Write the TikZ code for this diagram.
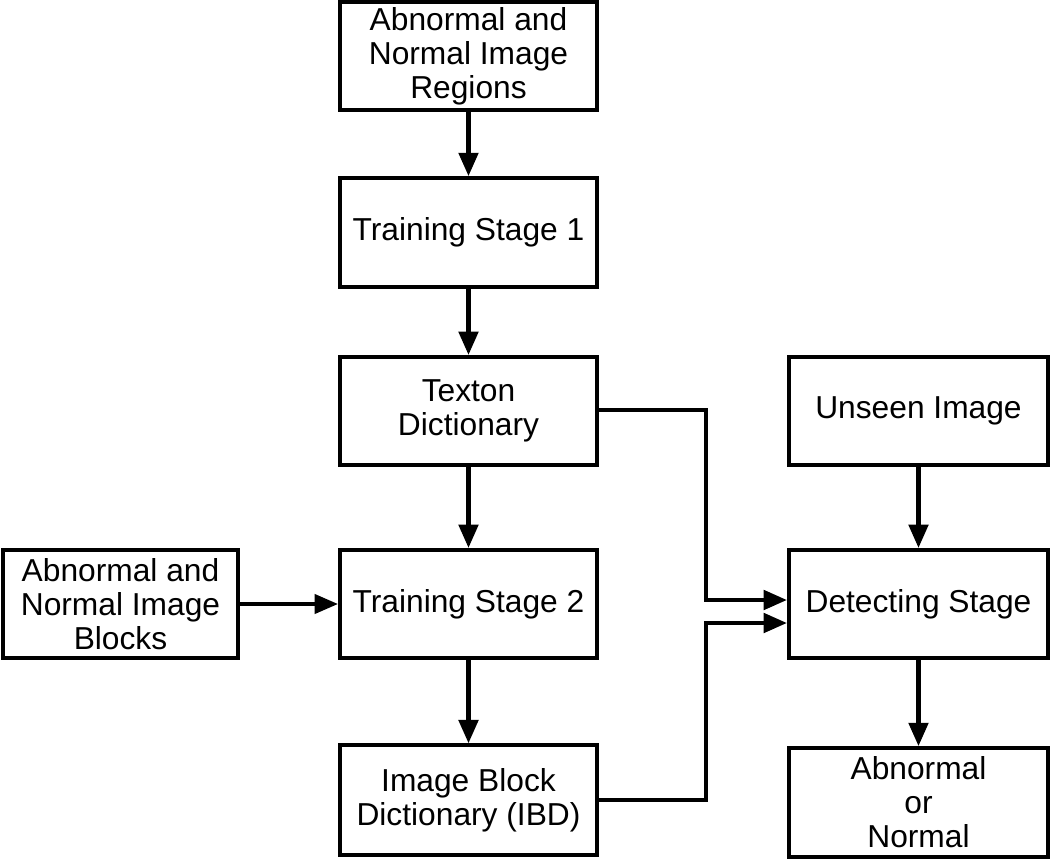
\documentclass[tikz,border=0pt]{standalone}
\usepackage{fontspec}
\setmainfont{Liberation Sans}
\usetikzlibrary{arrows.meta}
\begin{document}
\begin{tikzpicture}[x=0.75pt,y=-0.75pt,
  box/.style={draw, line width=3.1pt, minimum width=#1*0.75pt, inner sep=0pt, align=center,
    font=\fontsize{23.8}{25.5}\selectfont},
  box/.default=257,
  conn/.style={line width=3.1pt, -{Triangle[length=17.5pt,width=14.5pt]}}]
\useasboundingbox (0,0) rectangle (1050,860);
\node[box, minimum height=81pt] (reg) at (468.5,56) {Abnormal and\\Normal Image\\Regions};
\node[box, minimum height=81.5pt] (ts1) at (468.5,232.5) {Training Stage 1};
\node[box, minimum height=81pt] (tex) at (468.5,411) {Texton\\Dictionary};
\node[box, minimum height=81pt] (ts2) at (468.5,604) {Training Stage 2};
\node[box, minimum height=82pt] (ibd) at (468.5,800) {Image Block\\Dictionary (IBD)};
\node[box=235, minimum height=81pt] (blk) at (120.5,604) {Abnormal and\\Normal Image\\Blocks};
\node[box=259, minimum height=81pt] (uns) at (918.5,411) {Unseen Image};
\node[box=259, minimum height=81pt] (det) at (918.5,604) {Detecting Stage};
\node[box=259, minimum height=81.5pt] (out) at (918.5,802.5) {Abnormal\\or\\Normal};
\coordinate (j1) at (706,410);
\coordinate (j2) at (706,800);
\draw[conn] (reg) -- (ts1);
\draw[conn] (ts1) -- (tex);
\draw[conn] (tex) -- (ts2);
\draw[conn] (ts2) -- (ibd);
\draw[conn] (uns) -- (det);
\draw[conn] (det) -- (out);
\draw[conn, line width=2.4pt] (blk) -- (ts2);
\draw[conn] (tex.east |- j1) -- (j1) |- ([yshift=3pt]det.west);
\draw[conn] (ibd.east |- j2) -- (j2) |- ([yshift=-14.25pt]det.west);
\end{tikzpicture}
\end{document}
